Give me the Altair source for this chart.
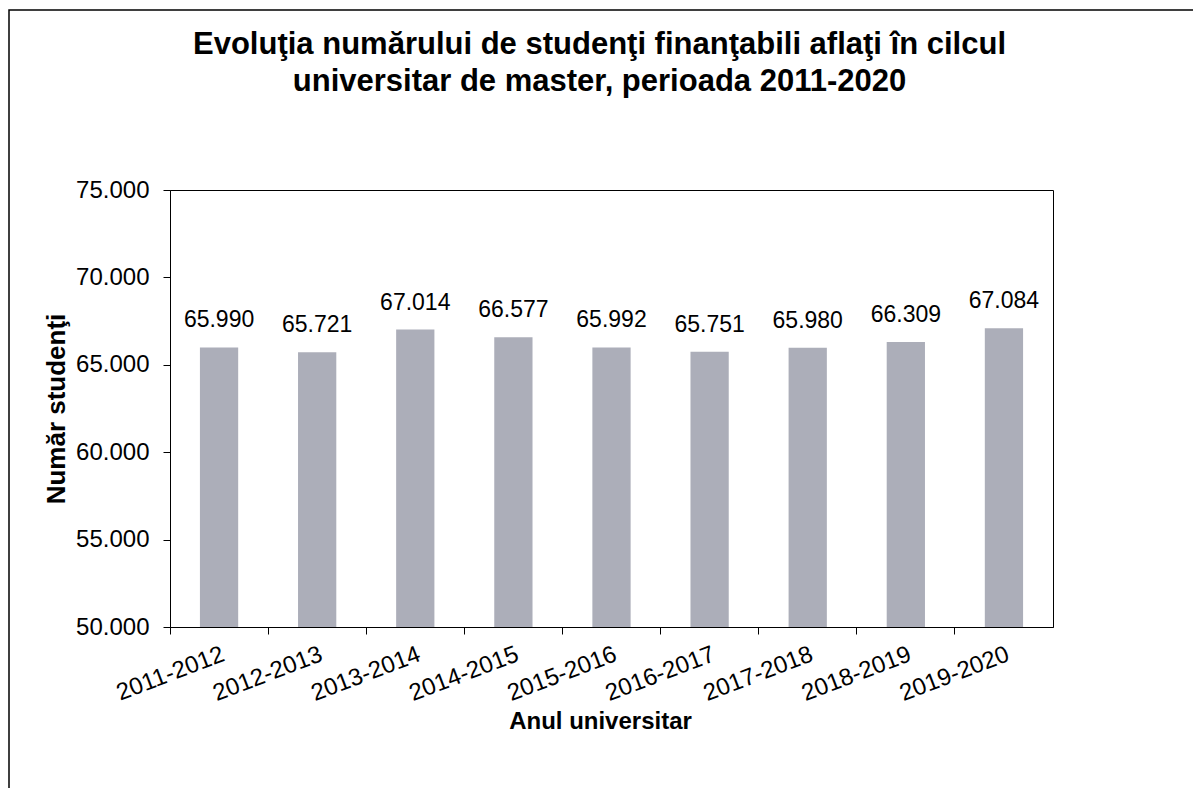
import altair as alt
import pandas as pd

years = ["2011-2012", "2012-2013", "2013-2014", "2014-2015", "2015-2016",
         "2016-2017", "2017-2018", "2018-2019", "2019-2020"]
students = [65990, 65721, 67014, 66577, 65992, 65751, 65980, 66309, 67084]
y_ticks = [50000, 55000, 60000, 65000, 70000, 75000]

title_lines = ["Evoluţia numărului de studenţi finanţabili aflaţi în cilcul",
               "universitar de master, perioada 2011-2020"]

df = pd.DataFrame({"an": years, "studenti": students})

FONT = "Liberation Sans"
W, H = 883, 437

x_enc = alt.X("an:N", sort=years,
              scale=alt.Scale(paddingInner=0, paddingOuter=0),
              axis=alt.Axis(title="Anul universitar", labelAngle=-21,
                            labelAlign="right", labelBaseline="top",
                            bandPosition=0,
                            labelPadding=8, tickSize=7, labelFontSize=24,
                            labelFont=FONT, labelColor="black",
                            titleFont=FONT, titleFontSize=24, titleFontWeight="bold",
                            titleColor="black", titleX=430, titleY=101,
                            titleBaseline="alphabetic", titleAlign="center",
                            domainColor="black", tickColor="black"))

y_enc = alt.Y("studenti:Q",
              scale=alt.Scale(domain=[50000, 75000], zero=False, nice=False),
              axis=alt.Axis(title="Număr studenţi", values=y_ticks,
                            labelExpr="replace(format(datum.value, ',.0f'), ',', '.')",
                            grid=False, tickSize=7, labelPadding=14,
                            labelFontSize=24, labelFont=FONT, labelColor="black",
                            titleFont=FONT, titleFontSize=26, titleFontWeight="bold",
                            titleColor="black", titleAngle=-90, titleX=-106,
                            titleY=H / 2, titleAlign="center",
                            titleBaseline="alphabetic",
                            domainColor="black", tickColor="black"))

base = alt.Chart(df)

bars = base.mark_bar(color="#acaeb9", clip=True,
                     width=alt.RelativeBandSize(0.39)).encode(x=x_enc, y=y_enc)

labels = base.transform_calculate(
    lab="replace(format(datum.studenti, ',.0f'), ',', '.')"
).mark_text(font=FONT, fontSize=23, color="black", baseline="alphabetic",
            dy=-20).encode(x=alt.X("an:N", sort=years), y="studenti:Q", text="lab:N")

frame = base.mark_rect(filled=False, stroke="black", strokeWidth=1.5).encode(
    x=alt.value(-161), x2=alt.value(1045), y=alt.value(-180), y2=alt.value(602)
).transform_filter("datum.an == '2011-2012'")

chart = alt.layer(frame, bars, labels).properties(
    width=W, height=H,
    autosize=alt.AutoSizeParams(type="none"),
    padding={"left": 162, "top": 182, "right": 140, "bottom": 161},
    title=alt.TitleParams(text=title_lines, fontSize=31, font=FONT,
                          fontWeight="bold", anchor="middle", color="black",
                          lineHeight=37, offset=-89, dx=-12),
).configure_view(stroke="black", strokeWidth=1)

chart.save("out.html", embed_options={"renderer": "svg", "actions": False})
